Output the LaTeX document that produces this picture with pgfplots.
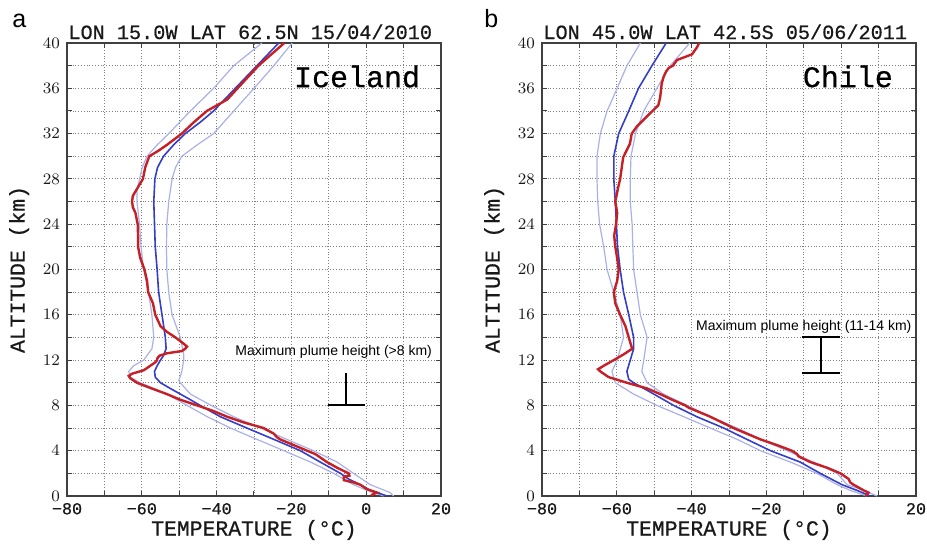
\documentclass[border=0pt]{standalone}
\usepackage{fontspec}
\setmainfont{Liberation Sans}
\setmonofont{Liberation Mono}
\newfontfamily\cour[FakeBold=0.6]{Liberation Mono}
\usepackage{pgfplots}
\pgfplotsset{compat=1.18}

\definecolor{obsred}{RGB}{196,32,38}
\definecolor{meanblue}{RGB}{52,62,200}
\definecolor{bandblue}{RGB}{170,176,232}

\pgfplotsset{
  profile/.style={
    scale only axis, width=187pt, height=226.5pt,
    xmin=-80, xmax=20, ymin=0, ymax=40,
    xtick={-80,-60,...,20}, xticklabels={−80,−60,−40,−20,0,20},
    ytick={0,4,...,40},
    minor xtick={-70,-50,...,10}, minor ytick={2,6,...,38},
    grid=both,
    major grid style={densely dotted, black!50, line width=0.45pt},
    minor grid style={densely dotted, black!50, line width=0.45pt},
    axis line style={black!75, line width=1pt},
    tick align=inside, tick style={black!75, line width=0.5pt},
    major tick length=2.5pt, minor tick length=2.5pt,
    tick label style={font=\cour\fontsize{8.4}{9}\selectfont, black!90},
    xlabel={TEMPERATURE (°C)}, ylabel={ALTITUDE (km)},
    label style={font=\cour\fontsize{10.7}{12}\selectfont, black!90},
    xlabel style={at={(axis description cs:0.5,-0.075)}, anchor=center},
    ylabel style={at={(axis description cs:-0.128,0.5)}, anchor=center},
    clip=false,
    band/.style={bandblue, line width=0.6pt},
    mean/.style={meanblue, line width=0.8pt},
    obs/.style={obsred, line width=1.2pt},
  }
}

\begin{document}
\begin{tikzpicture}
\path[use as bounding box] (-33.5pt,-25.5pt) rectangle (430pt,248pt);

% ---- a: Iceland ----
\begin{axis}[profile, at={(0pt,0pt)}]
  \addplot[band] coordinates {
    (-19.8,40) (-24.7,38) (-30.0,36) (-35.4,34) (-40.8,32) (-45.2,31) (-49.3,30) (-51.0,29)
    (-51.9,28) (-52.8,26) (-53.3,24) (-53.4,22) (-53.3,20) (-52.8,18) (-51.9,16) (-49.7,14)
    (-48.8,12.5) (-48.8,12) (-49.3,11) (-50.1,10.2) (-49.7,10) (-47.0,9) (-41.5,8) (-35.4,7)
    (-28.3,6) (-21.2,5) (-14.1,4) (-7.8,3) (-3.4,2) (1.1,1) (6.4,0.3) (7.3,0)
  };
  \addplot[band] coordinates {
    (-27.9,40) (-35.4,38) (-40.8,36) (-47.0,34) (-52.8,32) (-55.9,31) (-58.6,30) (-59.9,29)
    (-60.6,28) (-61.3,27) (-61.3,26) (-60.6,24) (-60.2,22) (-59.5,20) (-58.2,18) (-57.3,16)
    (-56.8,14) (-57.3,13) (-59.5,12) (-62.2,11.5) (-63.5,11) (-63.1,10.5) (-60.4,10) (-56.8,9.5)
    (-53.3,9) (-47.9,8) (-42.5,7) (-36.3,6) (-29.2,5) (-22.0,4) (-14.9,3) (-8.7,2) (-3.4,1)
    (0.2,0.5) (4.7,0)
  };
  \addplot[mean] coordinates {
    (-23.4,40) (-29.2,38) (-35.0,36) (-40.8,34) (-44.4,33) (-48.4,32) (-51.5,31) (-54.2,30)
    (-55.8,29) (-56.5,28) (-56.8,26) (-56.6,24) (-56.4,22) (-55.9,20) (-55.5,18) (-54.6,16)
    (-53.7,14) (-53.5,13) (-54.2,12.4) (-55.0,12) (-55.9,11.5) (-56.6,11) (-56.4,10.5) (-55.0,10)
    (-52.4,9.5) (-49.7,9) (-47.0,8.5) (-44.4,8) (-39.0,7) (-31.9,6) (-24.7,5) (-17.6,4)
    (-12.3,3) (-6.9,2) (-4.7,1.5) (-1.6,1) (1.1,0.5) (5.6,0)
  };
  \addplot[obs] coordinates {
    (-21.9,40) (-28.8,38) (-34.4,36) (-37.2,35) (-42.6,34) (-46.1,33) (-49.3,32) (-53.3,31)
    (-55.5,30.5) (-58.0,30) (-59.1,29) (-59.7,28) (-61.5,27) (-62.4,26.5) (-62.6,26) (-62.4,25.5)
    (-61.7,25) (-61.1,24) (-61.0,23) (-61.0,22) (-60.4,21) (-59.3,20) (-58.6,19) (-58.3,18)
    (-57.0,17) (-56.4,16) (-55.0,15) (-53.3,14.5) (-51.0,14) (-49.0,13.5) (-47.9,13.2) (-48.4,13)
    (-49.3,12.8) (-53.3,12.6) (-55.2,12.4) (-55.8,12.2) (-55.9,12) (-56.4,11.8) (-59.5,11.1)
    (-62.6,10.8) (-63.5,10.6) (-63.1,10.4) (-61.3,10) (-58.2,9.6) (-53.3,9) (-49.7,8.5) (-45.2,8)
    (-40.8,7.5) (-37.2,7) (-32.8,6.5) (-27.4,6) (-24.7,5.5) (-23.9,5.2) (-23.0,5) (-19.4,4.5)
    (-15.8,4) (-13.6,3.7) (-10.5,3) (-7.8,2.5) (-4.7,2) (-4.5,1.8) (-6.0,1.7) (-6.0,1.4)
    (-3.4,1.2) (-1.6,1) (0.2,0.6) (2.9,0.3) (1.5,0.1) (1.5,0)
  };
  \draw[black, line width=1pt] (axis cs:-5.5,8) -- (axis cs:-5.5,10.9);
  \draw[black, line width=1pt] (axis cs:-10.2,8) -- (axis cs:-0.4,8);
  \node[anchor=base, font=\fontsize{7}{8}\selectfont] at (axis cs:-8.7,12.45) {Maximum plume height (>8 km)};
  \node[anchor=base east, font=\cour\fontsize{15}{16}\selectfont] at (axis cs:16.3,36.1) {Iceland};
  \node[anchor=base, inner sep=0pt, font=\cour\fontsize{10.1}{11}\selectfont, black!90]
    at (axis description cs:0.49,1) [yshift=2pt] {LON 15.0W LAT 62.5N 15/04/2010};
\end{axis}

% ---- b: Chile ----
\begin{axis}[profile, at={(237.5pt,0pt)}]
  \addplot[band] coordinates {
    (-40.5,40) (-45.7,38) (-49.3,36) (-52.8,34) (-55.0,32) (-56.2,30) (-56.4,28) (-56.4,26)
    (-55.9,24) (-55.7,22) (-55.5,20) (-54.6,18) (-53.7,16) (-51.9,14) (-52.8,12) (-53.3,11)
    (-51.9,10) (-47.5,9) (-41.2,8) (-35.0,7) (-27.8,6) (-21.6,5) (-14.5,4) (-7.4,3) (-1.1,2)
    (1.6,1) (6.0,0.5) (9.6,0)
  };
  \addplot[band] coordinates {
    (-53.7,40) (-57.3,38) (-59.9,36) (-62.6,34) (-64.4,32) (-65.3,30) (-65.3,28) (-65.1,26)
    (-64.6,24) (-63.5,22) (-62.6,20) (-60.8,18) (-59.1,16) (-58.2,14) (-59.9,12) (-61.3,11)
    (-60.4,10) (-55.5,9) (-49.3,8) (-42.1,7) (-35.0,6) (-27.8,5) (-21.6,4) (-13.6,3) (-6.5,2)
    (-1.1,1) (2.4,0.5) (6.9,0)
  };
  \addplot[mean] coordinates {
    (-46.8,40) (-50.6,38) (-54.2,36) (-56.8,34) (-59.5,32) (-60.8,30) (-60.8,28) (-60.4,26)
    (-60.1,24) (-59.8,22) (-59.1,20) (-58.2,18) (-56.8,16) (-55.5,14) (-55.5,13) (-56.4,12)
    (-57.3,11) (-56.8,10.3) (-55.5,10) (-50.1,9) (-44.8,8) (-38.6,7) (-31.4,6) (-25.2,5)
    (-18.9,4) (-11.0,3) (-5.6,2) (0.2,1) (4.2,0.5) (7.8,0)
  };
  \addplot[obs] coordinates {
    (-38.0,40) (-38.6,39.6) (-39.9,39) (-43.9,38.5) (-45.0,38) (-46.1,37.8) (-46.8,37.5)
    (-47.5,37) (-48.0,36.4) (-48.4,35.2) (-48.9,34.5) (-52.0,33.5) (-54.7,32.6) (-56.0,32)
    (-56.5,31.1) (-58.3,29.9) (-59.1,28) (-59.6,27.3) (-60.4,26) (-59.9,25) (-60.2,24) (-60.7,23)
    (-60.4,22) (-59.9,21) (-59.5,20) (-59.9,19) (-60.8,18) (-60.4,17) (-59.1,16) (-57.7,15)
    (-56.8,14) (-55.9,13) (-58.2,12.5) (-60.8,12) (-63.5,11.5) (-65.0,11.2) (-64.4,11)
    (-62.2,10.5) (-57.3,10) (-51.9,9.5) (-48.4,9) (-45.2,8.5) (-41.7,8) (-40.8,7.8) (-38.6,7.5)
    (-35.0,7) (-28.8,6) (-21.6,5) (-17.2,4.5) (-13.2,4) (-11.8,3.7) (-11.4,3.5) (-8.3,3)
    (-3.8,2.5) (-0.2,2) (2.0,1.5) (2.4,1.2) (3.3,1) (6.0,0.5) (7.3,0.3) (6.5,0)
  };
  \draw[black, line width=1pt] (axis cs:-5.4,10.9) -- (axis cs:-5.4,14);
  \draw[black, line width=1pt] (axis cs:-10.5,14) -- (axis cs:-0.2,14);
  \draw[black, line width=1pt] (axis cs:-10.5,10.9) -- (axis cs:-0.2,10.9);
  \node[anchor=base, font=\fontsize{7}{8}\selectfont] at (axis cs:-10,14.6) {Maximum plume height (11-14 km)};
  \node[anchor=base east, font=\cour\fontsize{15}{16}\selectfont] at (axis cs:15.7,36.1) {Chile};
  \node[anchor=base, inner sep=0pt, font=\cour\fontsize{10.1}{11}\selectfont, black!90]
    at (axis description cs:0.49,1) [yshift=2pt] {LON 45.0W LAT 42.5S 05/06/2011};
\end{axis}

% panel letters
\node[anchor=base west, inner sep=0pt, font=\fontsize{12.5}{14}\selectfont] at (-27.5pt,234pt) {a};
\node[anchor=base west, inner sep=0pt, font=\fontsize{12.5}{14}\selectfont] at (208.5pt,234pt) {b};
\end{tikzpicture}
\end{document}
